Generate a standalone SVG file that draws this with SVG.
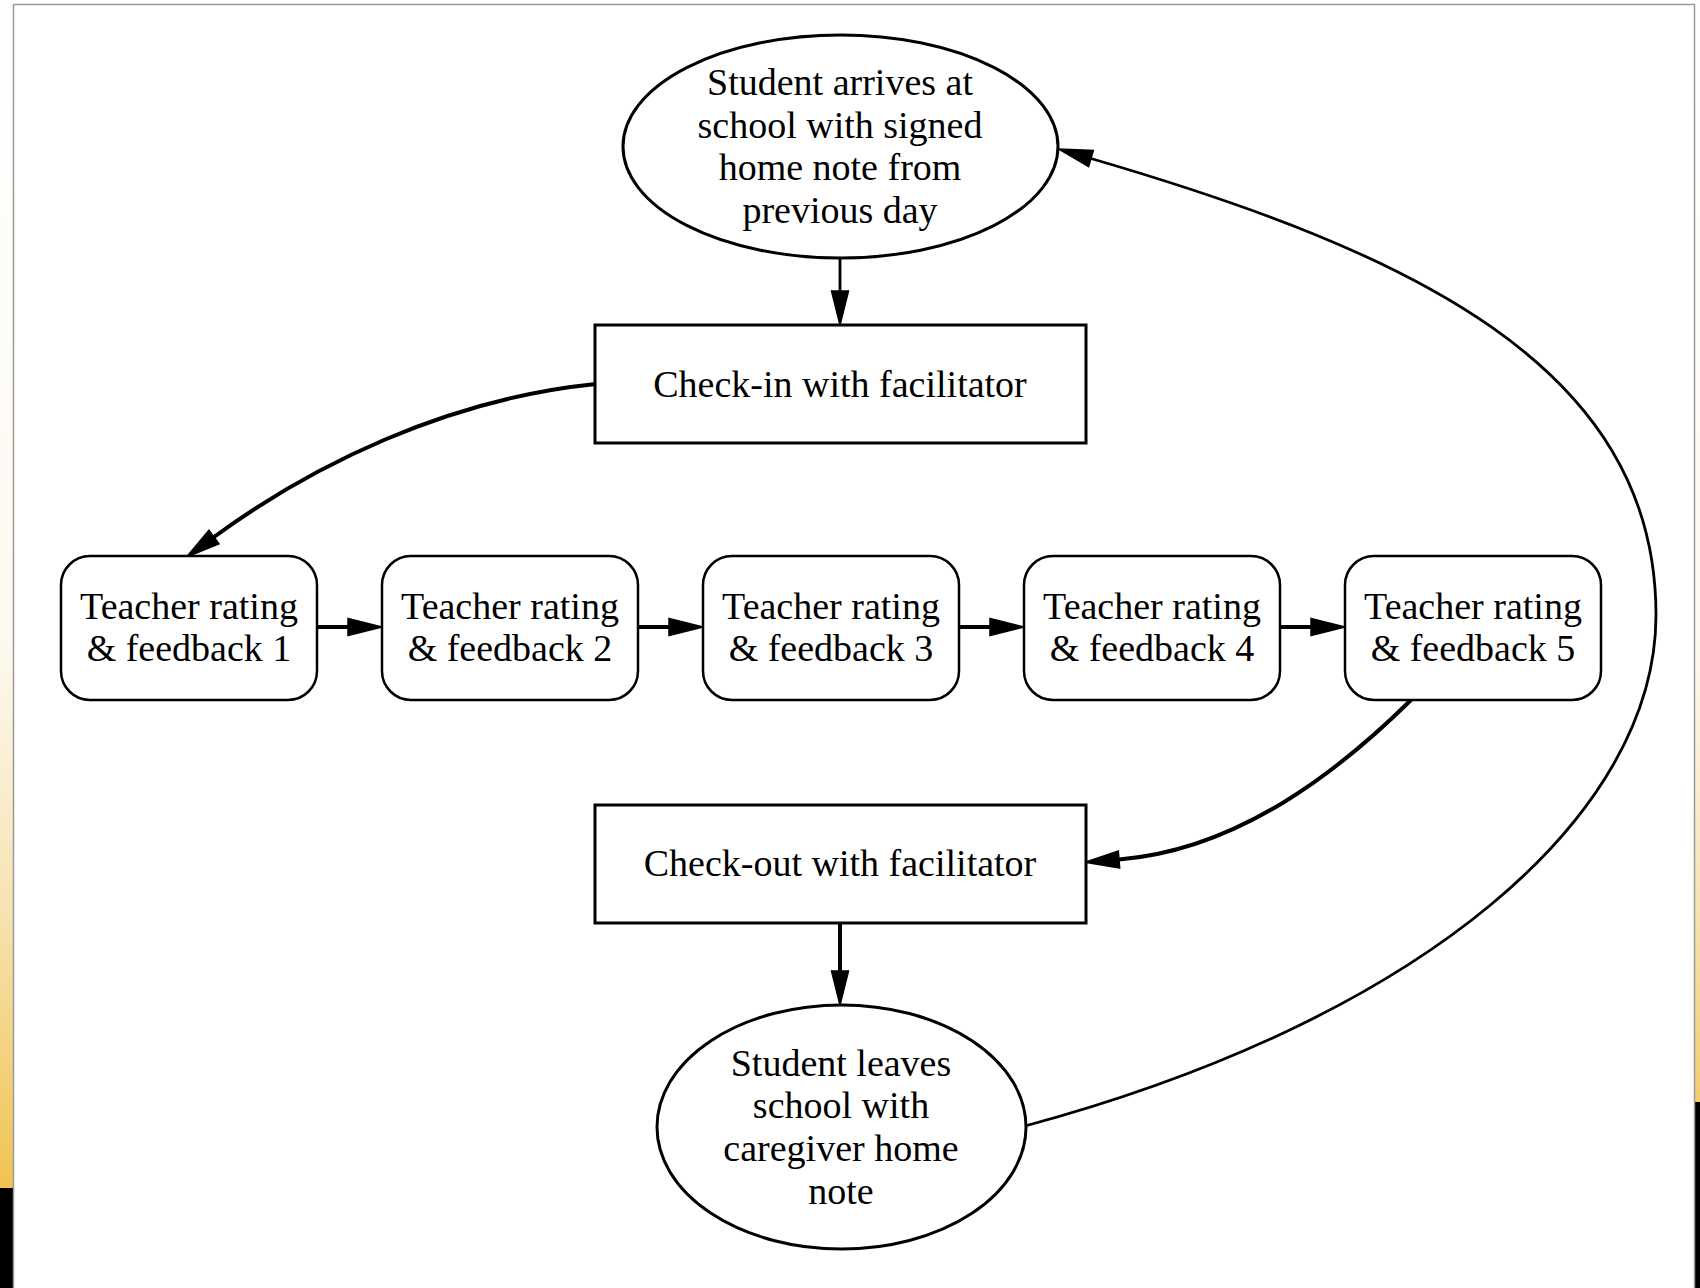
<svg xmlns="http://www.w3.org/2000/svg" width="1700" height="1288" viewBox="0 0 1700 1288">
  <defs>
    <linearGradient id="strip" x1="0" y1="0" x2="0" y2="1288" gradientUnits="userSpaceOnUse">
      <stop offset="0" stop-color="#ffffff"/>
      <stop offset="0.5" stop-color="#fdf9f0"/>
      <stop offset="0.7" stop-color="#f7e4b4"/>
      <stop offset="0.92" stop-color="#f0c452"/>
    </linearGradient>
    <marker id="arr" markerUnits="userSpaceOnUse" markerWidth="40" markerHeight="24" refX="0" refY="0" viewBox="0 -12 40 24" orient="auto" overflow="visible">
      <path d="M0,-8.5 L34,0 L0,8.5 z" fill="#000" stroke="#000" stroke-width="1.5" stroke-linejoin="miter"/>
    </marker>
    <style>
      text { font-family: "Liberation Serif", "Times New Roman", serif; font-size: 38px; fill: #000; text-anchor: middle; }
      .box { fill: #fff; stroke: #000; stroke-width: 3; }
      .rbox { fill: #fff; stroke: #000; stroke-width: 2.5; }
      .ell { fill: #fff; stroke: #000; stroke-width: 3; }
      .edge { fill: none; stroke: #000; stroke-width: 4; marker-end: url(#arr); }
      .thin { stroke-width: 2.8; }
    </style>
  </defs>

  <!-- background -->
  <rect x="0" y="0" width="1700" height="1288" fill="#ffffff"/>
  <rect x="0" y="0" width="14" height="1188" fill="url(#strip)"/>
  <rect x="0" y="1188" width="14" height="100" fill="#000"/>
  <rect x="1694" y="0" width="6" height="1102" fill="url(#strip)"/>
  <rect x="1694" y="1102" width="6" height="186" fill="#000"/>
  <rect x="13.5" y="4.5" width="1681" height="1300" fill="#fff" stroke="#9a9a9a" stroke-width="1.5"/>

  <!-- connectors -->
  <g id="connectors">
    <path class="edge thin" d="M840,258 L840,291"/>
    <path class="edge" d="M596,384 C446,399 311,466 214,537"/>
    <path class="edge" d="M317,627 L348,627"/>
    <path class="edge" d="M638,627 L669,627"/>
    <path class="edge" d="M959,627 L990,627"/>
    <path class="edge" d="M1280,627 L1311,627"/>
    <path class="edge" d="M1411,700 C1340,770 1239,850 1119,859.5"/>
    <path class="edge" d="M840,923 L840,971"/>
    <path class="edge thin" d="M1025,1126 C1425,1018 1656,815 1656,615 C1656,365 1408,251 1091,158.5"/>
  </g>

  <!-- nodes -->
  <g id="arrive">
    <ellipse class="ell" cx="840.5" cy="146.5" rx="217.5" ry="111.5"/>
    <text x="840" y="95">Student arrives at</text>
    <text x="840" y="138">school with signed</text>
    <text x="840" y="180">home note from</text>
    <text x="840" y="223">previous day</text>
  </g>
  <g id="checkin">
    <rect class="box" x="595" y="325" width="491" height="118"/>
    <text x="840" y="397">Check-in with facilitator</text>
  </g>
  <g id="t1">
    <rect class="rbox" x="61" y="556" width="256" height="144" rx="29"/>
    <text x="189" y="619">Teacher rating</text>
    <text x="189" y="661">&amp; feedback 1</text>
  </g>
  <g id="t2">
    <rect class="rbox" x="382" y="556" width="256" height="144" rx="29"/>
    <text x="510" y="619">Teacher rating</text>
    <text x="510" y="661">&amp; feedback 2</text>
  </g>
  <g id="t3">
    <rect class="rbox" x="703" y="556" width="256" height="144" rx="29"/>
    <text x="831" y="619">Teacher rating</text>
    <text x="831" y="661">&amp; feedback 3</text>
  </g>
  <g id="t4">
    <rect class="rbox" x="1024" y="556" width="256" height="144" rx="29"/>
    <text x="1152" y="619">Teacher rating</text>
    <text x="1152" y="661">&amp; feedback 4</text>
  </g>
  <g id="t5">
    <rect class="rbox" x="1345" y="556" width="256" height="144" rx="29"/>
    <text x="1473" y="619">Teacher rating</text>
    <text x="1473" y="661">&amp; feedback 5</text>
  </g>
  <g id="checkout">
    <rect class="box" x="595" y="805" width="491" height="118"/>
    <text x="840" y="876">Check-out with facilitator</text>
  </g>
  <g id="leave">
    <ellipse class="ell" cx="841.5" cy="1127" rx="184.5" ry="122"/>
    <text x="841" y="1076">Student leaves</text>
    <text x="841" y="1118">school with</text>
    <text x="841" y="1161">caregiver home</text>
    <text x="841" y="1204">note</text>
  </g>
</svg>
